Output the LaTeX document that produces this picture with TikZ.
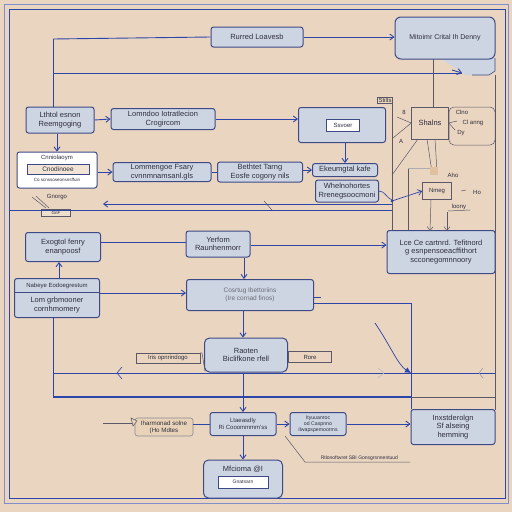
\documentclass[tikz,border=0pt]{standalone}
\usepackage{fontspec}
\setmainfont{Liberation Sans}
\usetikzlibrary{arrows.meta,calc}
\definecolor{bg}{HTML}{EAD5C0}
\definecolor{boxf}{HTML}{CDD5E3}
\definecolor{bord}{HTML}{3E4A86}
\definecolor{lin}{HTML}{2C45A8}
\definecolor{thinc}{HTML}{5C5868}
\definecolor{txt}{HTML}{2E2E3E}
\definecolor{tan}{HTML}{E8D2B8}
\tikzset{
  bx/.style={draw=bord, fill=boxf, rounded corners=2.5pt, line width=1pt, align=center, inner sep=1pt, font=\fontsize{7.5}{8.5}\selectfont, text=txt},
  lb/.style={draw=thinc, line width=0.5pt, inner sep=1pt, font=\fontsize{6}{7}\selectfont, text=txt},
  tx/.style={font=\fontsize{7.5}{8.5}\selectfont, text=txt, align=center, inner sep=0pt},
  sm/.style={font=\fontsize{6}{7}\selectfont, text=txt, align=center, inner sep=0pt},
  ln/.style={draw=lin, line width=0.9pt},
  tl/.style={draw=thinc, line width=0.5pt},
  ar/.style={ln, -{Straight Barb[length=4pt,width=6pt]}},
  tar/.style={tl, -{Straight Barb[length=4pt,width=6pt]}},
}
\begin{document}
\begin{tikzpicture}[x=1pt,y=-1pt]
\fill[bg] (0,0) rectangle (512,512);
\useasboundingbox (0,0) rectangle (512,512);
% frames
\draw[draw=lin!60, line width=0.5pt] (4,4) rectangle (508,503);
\draw[ln] (9,9) rectangle (505,498);

% coordinates
\coordinate (c1) at (53,39);
\coordinate (c2) at (53,73);
\coordinate (c3) at (462,73);

% top right box tail
\fill[boxf] (440,58) -- (495,58) -- (495,71) -- (489,75) -- (466,75) -- cycle;
\draw[bord, line width=0.6pt] (495,58) -- (495,71) -- (489,75) -- (472,75);

% top lines
\draw[ln] (c2) -- (c3);
\draw[ar] ($(c3)+(-10,-3)$) -- (c3);
\draw[tl] (433,58) -- (433,107);
\draw[tl] (495,75) -- (495,410);

\node[bx, minimum width=92, minimum height=20] (b1) at (257,37) {Rurred Loavesb};
\node[bx, minimum width=100, minimum height=42, rounded corners=6pt, font=\fontsize{7}{8}\selectfont] (b2) at (445,38) {Mitoimr Crital Ih Denny};
\draw[ln] (c1) -- (b1.west);
\draw[ar] (b1.east) -- (b2.west |- b1.east);

% row 2
\node[bx, minimum width=68, minimum height=26] (b5) at (60,120) {Lthtol esnon\\Reemgoging};
\node[bx, minimum width=104, minimum height=21] (b6) at (163,119) {Lomndoo Iotratlecion\\Crogircom};
\node[bx, minimum width=87, minimum height=35] (b7) at (342,125) {};
\node[draw=bord, fill=white, line width=0.6pt, minimum width=33, minimum height=12, inner sep=0pt, font=\fontsize{6}{7}\selectfont, text=txt] (b7i) at (343,125) {Ssvoer};
\draw[ln] (c1) -- (c1 |- b5.north);
\draw[ar] (b5.east) -- (b6.west);
\draw[ar] (b6.east) -- (b7.west |- b6.east);

% row 3
\node[bx, fill=white, minimum width=80, minimum height=36] (b8) at (57,170) {};
\node[sm] (b8t) at (57,158) {Cnniolaoym};
\node[draw=bord, fill=tan!60, line width=0.6pt, minimum width=62, minimum height=10, inner sep=0pt, font=\fontsize{6.5}{7}\selectfont, text=txt] (b8i) at (58,169) {Cnodinoee};
\node[sm, font=\fontsize{4.5}{5}\selectfont] (b8s) at (57,180) {Co scnssoseonsnsffuin};
\draw[ar] (b5.south -| b8.north) -- (b8.north);
\node[sm] (gn) at (57,197) {Gnorgo};
\draw[tl] (32,197) -- (46,208);
\draw[tl] (36,196) -- (49,208);
\node[draw=thinc, fill=tan!70, line width=0.4pt, minimum width=29, minimum height=7, inner sep=0pt, sm, font=\fontsize{4.5}{5}\selectfont] (gt) at (56,213) {GnF};

\node[bx, minimum width=98, minimum height=19] (b10) at (162,172) {Lommengoe Fsary\\cvnnmnamsanl.gls};
\node[bx, minimum width=85, minimum height=20] (b11) at (260,172) {Bethtet Tarng\\Eosfe cogony nils};
\node[bx, minimum width=65, minimum height=13] (b12) at (345,170) {Ekeumgtal kafe};
\node[bx, minimum width=63, minimum height=22] (b13) at (347,191) {Whelnohortes\\Rrenegsoocmoni};
\draw[ar] (b8.east |- b10.west) -- (b10.west);
\draw[ln] (b10.east) -- (b11.west);
\draw[ar] (b11.east |- b12.west) -- (b12.west);
\draw[ar] (b7.south -| b12.north) -- (b12.north);

% horizontal frame lines
\draw[ln] (392,204) -- (112,204);
\draw[ar] (120,204) -- (103,204);
\draw[tl] (264,201) -- (272,210);
\draw[ln] (9,210) -- (392,210);

% right cluster
\node[lb] (st) at (385,100) {Stilts};
\draw[tl] (392,104) -- (392,231);
\draw[tl] (408,168) -- (408,231);
\draw[tl, draw=thinc!50] (408,168) -- (432,168);
\node[draw=thinc, line width=0.6pt, minimum width=37, minimum height=32, tx] (sh) at (430,123) {Shalns};
\draw[tl, rounded corners=5pt] (449,107) rectangle (495,145);
\node[sm] (t1) at (462,112) {Clno};
\node[sm] (t2) at (473,123) {Cl anng};
\node[sm] (t3) at (461,133) {Dy};
\draw[tl] (sh.east) -- (457,121);
\draw[tl] (sh.east) -- (455,130);
\node[sm] (t8) at (404,112) {8};
\node[sm] (tA) at (401,141) {A};
\draw[tl] (397,117) -- (sh.west);
\draw[tl] (393,138) -- (sh.west);
\draw[tl] (418,139) -- (392,175);
\draw[tl] (427,139) -- (432,172);
\draw[tl] (435,139) -- (437,172);
\fill[tan!80!brown] (430,167) rectangle (438,175);
\node[sm] (aho) at (453,175) {Aho};
\node[draw=thinc, line width=0.6pt, minimum width=29, minimum height=17, inner sep=0pt, sm] (nm) at (437,191) {Nmeg};
\draw[tl] (461,191) -- (466,190);
\node[sm] (ho) at (477,192) {Ho};
\node[sm] (lo) at (459,207) {loony};
\draw[tl] (448,211) -- (470,210);
\draw[ln, line width=0.6pt] (b13.east) to[out=0,in=160] (392,200);
\fill[lin] (392,201) circle (1.5pt);
\draw[ar, line width=0.7pt] (392,201) -- (nm.west);

\node[bx, minimum width=108, minimum height=43] (b19) at (441,252) {Lce Ce cartnrd. Tefitnord\\g esnpensoeacffithort\\scconegomnnoory};
\draw[tar] (431,200) -- (430,231);
\draw[tar] (447,212) -- (447,231);

% row 4
\node[bx, minimum width=75, minimum height=29] (b20) at (63,247) {Exogtol fenry\\enanpoosf};
\node[bx, minimum width=64, minimum height=26] (b21) at (218,244) {Yerfom\\Raunhenmorr};
\draw[ln] (b20.east |- 0,242) -- (b21.west |- 0,242);
\draw[ar] (b21.east |- 0,245) -- (b19.west |- 0,245);

\node[bx, minimum width=85, minimum height=39] (b23) at (57,298) {};
\draw[bord, line width=0.7pt] (b23.west |- 0,292) -- (b23.east |- 0,292);
\node[sm] (b23h) at (57,286) {Nabeye Eodoegrestum};
\node[tx] (b23b) at (57,305) {Lom grbmooner\\cornhmomery};
\draw[ar] (b23.north -| 59,0) -- (b20.south -| 59,0);

\node[bx, minimum width=127, minimum height=31, font=\fontsize{6.5}{7.5}\selectfont, text=txt!70] (b25) at (250,295) {Cosrtug Ibettoriins\\(Ire cornad finos)};
\draw[ar] (b23.east |- 0,293) -- (b25.west |- 0,293);
\draw[ar] (b21.south -| 244,0) -- (b25.north -| 244,0);
\draw[ln] (b25.east |- 0,297) -- ++(7,0);
\coordinate (c4) at (411,303);
\draw[ln] (b25.east |- c4) -- (c4) -- (411,409);

% row 5 lines
\draw[ln] (53,373) -- (495,373);
\draw[ln, line width=0.6pt] (122,367) -- (117,373) -- (122,379);
\draw[draw=thinc!40, line width=0.6pt] (378,368) -- (384,373) -- (378,378);
\draw[draw=thinc!60, line width=0.6pt] (483,368) -- (479,373) -- (483,378);
\draw[ln, line width=0.7pt, -{Latex[length=6pt,width=6pt]}] (375,323) .. controls (390,345) and (398,365) .. (411,373);
\draw[ln, line width=1.1pt] (53,397) -- (411,397);
\draw[tl] (411,397) -- (495,397);
\draw[ln] (53,0 |- b23.south) -- (53,397);

\node[bx, minimum width=83, minimum height=34, rounded corners=5pt] (b29) at (246,355) {Raoten\\Biclifkone rfell};
\draw[ar] (b25.south -| 243,0) -- (b29.north -| 243,0);
\node[lb, minimum width=64, minimum height=10] (l31) at (168,358) {Iris opnrindogo};
\node[lb, minimum width=43, minimum height=11] (l32) at (310,357) {Rore};
\draw[tl] (l31.north east) -- (202,353) -- (205,371);
\draw[tl] (l32.west) -- (b29.east |- l32.west);

% row 6
\node[bx, minimum width=84, minimum height=35] (b36) at (453,427) {Inxstderolgn\\Sf alseing\\hemming};
\node[bx, minimum width=66, minimum height=23, font=\fontsize{6}{7}\selectfont] (b37) at (243,424) {Ltaeasdly\\Ri Cooommmm'ss};
\node[bx, fill=tan, draw=thinc!70, line width=0.6pt, minimum width=58, minimum height=18, font=\fontsize{6.2}{7}\selectfont] (l39) at (164,427) {Iharmonad solne\\(Ho Mdtes};
\node[bx, minimum width=56, minimum height=23, font=\fontsize{5.2}{6}\selectfont] (b40) at (318,424) {Ityuuanroc\\od Caspnno\\Ilwapspemoorms};
\coordinate (c5) at (103,423);
\draw[tl] (c5) -- (l39.west |- c5);
\draw[tl, fill=tan] (131,418) -- (137,421) -- (133,426) -- cycle;
\draw[ar] (b29.south -| 243,0) -- (b37.north -| 243,0);
\draw[ln] (l39.east |- b37.west) -- (b37.west);
\draw[ar] (b37.east) -- (b40.west);
\draw[ar] (b40.east) -- (b36.west |- b40.east);

\node[bx, minimum width=79, minimum height=38, rounded corners=5pt] (b42) at (243,479) {};
\node[tx] (b42t) at (243,469) {Mfcioma @I};
\node[draw=bord, fill=white, line width=0.6pt, minimum width=50, minimum height=12, inner sep=0pt, sm, font=\fontsize{5}{6}\selectfont] (b42i) at (243,482) {Gnatsarn};
\draw[ar] (b37.south -| 243,0) -- (b42.north -| 243,0);

\coordinate (c6) at (285,436);
\coordinate (c7) at (305,462);
\coordinate (c8) at (410,462);
\draw[tl] (c6) -- (c7) -- (c8);
\node[sm, font=\fontsize{5}{6}\selectfont] (l44) at (358,458) {~ Rtlonoftwret SBI Gonsgrsnnentuud};
\end{tikzpicture}
\end{document}
